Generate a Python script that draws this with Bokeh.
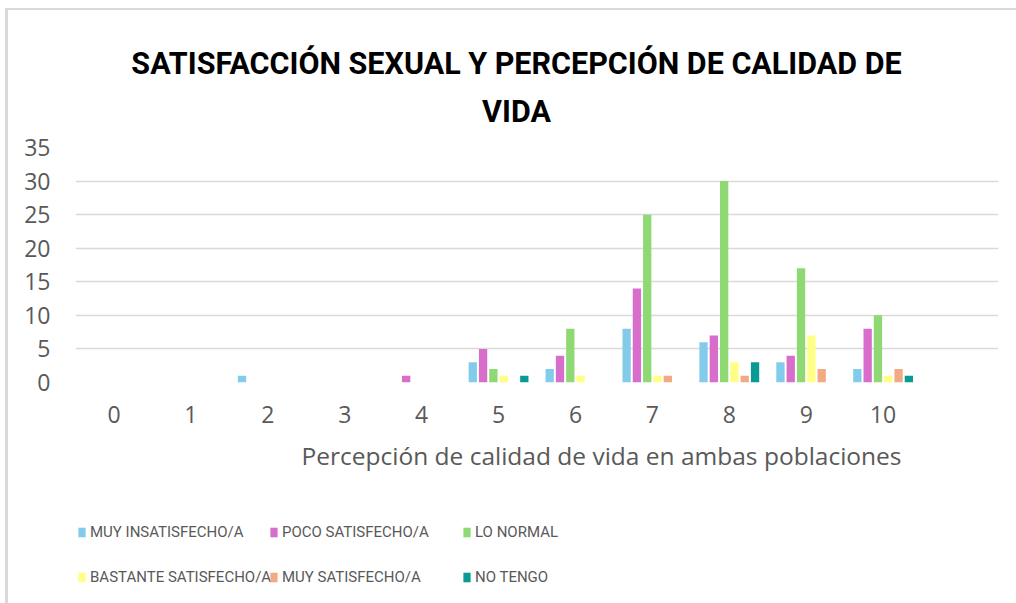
from bokeh.plotting import figure
from bokeh.layouts import column
from bokeh.models import Range1d, FixedTicker, Legend, LegendItem, Title, Label, ColumnDataSource
from bokeh.transform import dodge
from bokeh.embed import file_html
from bokeh.resources import INLINE

# ---- data ----
title_lines = ["SATISFACCIÓN SEXUAL Y PERCEPCIÓN DE CALIDAD DE", "VIDA"]
x_title = "Percepción de calidad de vida en ambas poblaciones"
categories = [0, 1, 2, 3, 4, 5, 6, 7, 8, 9, 10]
tick_labels = ["0", "1", "2", "3", "4", "5", "6", "7", "8", "9", "10"]
series_names = ["MUY INSATISFECHO/A", "POCO SATISFECHO/A", "LO NORMAL",
                "BASTANTE SATISFECHO/A", "MUY SATISFECHO/A", "NO TENGO"]
muy_insatisfecho = [0, 0, 1, 0, 0, 3, 2, 8, 6, 3, 2]
poco_satisfecho = [0, 0, 0, 0, 1, 5, 4, 14, 7, 4, 8]
lo_normal = [0, 0, 0, 0, 0, 2, 8, 25, 30, 17, 10]
bastante_satisfecho = [0, 0, 0, 0, 0, 1, 1, 1, 3, 7, 1]
muy_satisfecho = [0, 0, 0, 0, 0, 0, 0, 1, 1, 2, 2]
no_tengo = [0, 0, 0, 0, 0, 1, 0, 0, 3, 0, 1]
y_ticks = [0, 5, 10, 15, 20, 25, 30, 35]
colors = ["#83CBEB", "#D86ECC", "#8ED973", "#FFFF85", "#F2AA84", "#0A9A94"]

series_values = [muy_insatisfecho, poco_satisfecho, lo_normal,
                 bastante_satisfecho, muy_satisfecho, no_tengo]

NARROW = "Roboto"
REG = "Open Sans"
GRAY = "#595959"
W = 1008

# ---- header strip with the two-line chart title ----
ph = figure(width=W, height=119, x_range=Range1d(75, 998), y_range=Range1d(129, 10),
            output_backend="svg", toolbar_location=None, title=None,
            x_axis_type=None, y_axis_type=None,
            min_border_left=67, min_border_right=18, min_border_top=0, min_border_bottom=0)
ph.outline_line_color = None
ph.xgrid.grid_line_color = None
ph.ygrid.grid_line_color = None
for line, base in zip(title_lines, [63, 110.5]):
    ph.add_layout(Label(x=516, y=base, text=line, text_align="center", text_baseline="alphabetic",
                        text_font=NARROW, text_font_size="30.5px", text_font_style="bold",
                        text_color="black"))

# ---- main chart ----
p = figure(width=W, height=361, x_range=Range1d(-0.5, 11.5), y_range=Range1d(0, 35),
           output_backend="svg", toolbar_location=None, title=None,
           min_border_left=67, min_border_right=18, min_border_top=18, min_border_bottom=108)
p.outline_line_color = None
p.background_fill_color = "white"
p.border_fill_color = "white"

p.yaxis.ticker = FixedTicker(ticks=y_ticks)
p.xaxis.ticker = FixedTicker(ticks=categories)
p.xaxis.major_label_overrides = {c: t for c, t in zip(categories, tick_labels)}
for ax in (p.xaxis, p.yaxis):
    ax.axis_line_color = None
    ax.major_tick_line_color = None
    ax.minor_tick_line_color = None
    ax.major_label_text_color = GRAY
    ax.major_label_text_font = REG
    ax.major_label_text_font_size = "23px"
p.yaxis.major_label_standoff = 19
p.xaxis.major_label_standoff = 17
p.xgrid.grid_line_color = None
p.ygrid.grid_line_color = "#D9D9D9"
p.ygrid.grid_line_width = 1.6

pitch = 0.134
width = 0.108
renderers = []
sources = []
for i, (name, vals, col) in enumerate(zip(series_names, series_values, colors)):
    src = ColumnDataSource(dict(x=[c for c, v in zip(categories, vals) if v > 0],
                                top=[v for v in vals if v > 0]))
    sources.append(src)
    r = p.vbar(x=dodge("x", (i - 2.5) * pitch, range=p.x_range), top="top", bottom=0,
               width=width, source=src, fill_color=col, line_color=None)
    renderers.append(r)

xl = Title(text=x_title, align="left", offset=226,
           text_font=REG, text_font_size="24.5px", text_font_style="normal",
           text_color=GRAY, standoff=22)
p.add_layout(xl, "below")

# ---- legend strip under the chart (same series, drawn outside this strip's visible range) ----
pl = figure(width=W, height=113, x_range=Range1d(100, 101), y_range=Range1d(100, 101),
            output_backend="svg", toolbar_location=None, title=None,
            x_axis_type=None, y_axis_type=None,
            min_border_left=67, min_border_right=18, min_border_top=0, min_border_bottom=0)
pl.outline_line_color = None
pl.xgrid.grid_line_color = None
pl.ygrid.grid_line_color = None
legend_renderers = [pl.vbar(x="x", top="top", bottom=0, width=width, source=s,
                            fill_color=c, line_color=None)
                    for s, c in zip(sources, colors)]

col_x = [2, 194, 387]
for c in range(3):
    idx = [c, c + 3]
    lg = Legend(items=[LegendItem(label=series_names[k], renderers=[legend_renderers[k]]) for k in idx],
                orientation="vertical", location=(col_x[c], 4),
                glyph_width=9, glyph_height=12, label_standoff=4,
                label_height=45, spacing=0, padding=0, margin=0,
                label_text_font=NARROW, label_text_font_size="15px",
                label_text_color=GRAY, border_line_color=None, background_fill_alpha=0)
    pl.add_layout(lg)

layout = column(ph, p, pl, spacing=0,
                styles={"margin-left": "5px", "margin-top": "8px",
                        "border-left": "3px solid #D9D9D9", "border-top": "2px solid #D9D9D9"})
open("out.html", "w").write(file_html(layout, INLINE))
